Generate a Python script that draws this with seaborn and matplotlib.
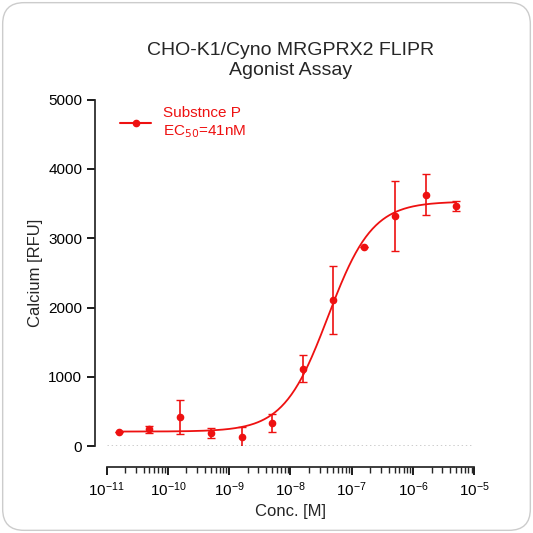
import numpy as np
import matplotlib
matplotlib.use("Agg")
import matplotlib.pyplot as plt
from matplotlib.patches import FancyBboxPatch
import seaborn as sns

conc = [1.6e-11, 5e-11, 1.6e-10, 5e-10, 1.6e-9, 5e-9, 1.6e-8, 5e-8, 1.6e-7, 5e-7, 1.6e-6, 5e-6]
rfu = [210, 240, 420, 190, 130, 340, 1120, 2110, 2880, 3320, 3630, 3470]
err = [0, 50, 240, 70, 150, 130, 190, 490, 0, 510, 300, 70]
fit_bottom, fit_top, fit_ec50, fit_hill = 210, 3530, 4.1e-8, 1.2

sns.set_theme(style="ticks")
plt.rcParams['font.family'] = ['Liberation Sans', 'DejaVu Sans']
fig = plt.figure(figsize=(5.33, 5.33), dpi=100)
fig.patches.append(FancyBboxPatch((0.005, 0.005), 0.99, 0.99, boxstyle="round,pad=0,rounding_size=0.04",
                                  transform=fig.transFigure, fc="white", ec="#cccccc", lw=1, zorder=-10))
ax = fig.add_axes([0.2, 0.163, 0.69, 0.65])
ax.patch.set_alpha(0)
red = "#ee1111"
xs = np.logspace(np.log10(1.6e-11), np.log10(5e-6), 300)
ys = fit_bottom + (fit_top - fit_bottom) / (1 + (fit_ec50 / xs) ** fit_hill)
sns.lineplot(x=xs, y=ys, ax=ax, color=red, lw=1.3)
ax.errorbar(conc, rfu, yerr=err, fmt="o", color=red, ms=4.5, capsize=3, elinewidth=1.2)
ax.axhline(0, color="black", ls=(0, (1, 2)), lw=1)
ax.set_xscale("log")
ax.set_xlim(1e-11, 1e-5)
ax.set_ylim(0, 5000)
ax.set_yticks(range(0, 5001, 1000))
ax.set_xticks([10.0**k for k in range(-11, -4)])
ax.spines[['top', 'right']].set_visible(False)
ax.spines['bottom'].set_position(('outward', 15))
ax.spines['left'].set_position(('outward', 8))
ax.tick_params(labelsize=11, colors="black")
ax.set_xlabel("Conc. [M]", fontsize=12)
ax.set_ylabel("Calcium [RFU]", fontsize=12)
ax.set_title("CHO-K1/Cyno MRGPRX2 FLIPR\nAgonist Assay", fontsize=14, pad=18)
ax.plot([], [], "o-", color=red, ms=4.5, label="Substnce P\nEC$_{50}$=41nM")
leg = ax.legend(loc="upper left", frameon=False, fontsize=11, handlelength=2, bbox_to_anchor=(0.0, 1.02))
for t in leg.get_texts():
    t.set_color(red)
fig.savefig("out.png", dpi=100)
